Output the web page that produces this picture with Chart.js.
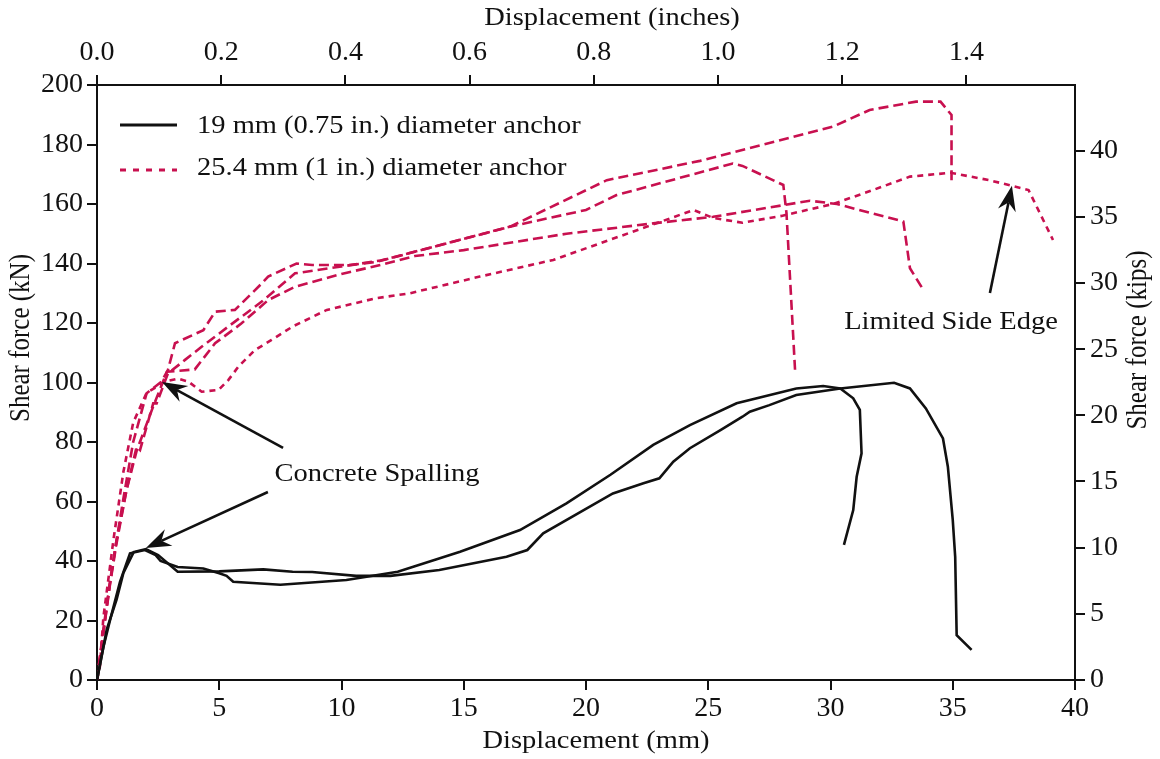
<!DOCTYPE html>
<html>
<head>
<meta charset="utf-8">
<title>Shear force vs displacement</title>
<script src="https://cdn.jsdelivr.net/npm/chart.js@4.4.1/dist/chart.umd.min.js"></script>
<style>
  html, body { margin: 0; padding: 0; background: #fff; }
  #wrap { width: 1160px; height: 759px; position: relative; }
</style>
</head>
<body>
<div id="wrap"><canvas id="chart"></canvas></div>
<script>
'use strict';

// ---- data (displacement mm, shear force kN) ----

// 19 mm (0.75 in.) anchors
const a19aMm = [0, 0.26, 0.53, 0.94, 1.35, 1.96, 2.4, 2.6, 3.3, 4.35, 5.0, 5.3, 5.57, 7.5, 10.2, 12.3, 14.85, 17.3, 19.2, 21.0, 22.75, 24.25, 26.16, 28.6, 29.7, 30.4, 30.93, 31.2, 31.27, 31.07, 30.93, 30.55];
const a19aKn = [0, 11, 20, 33, 42.6, 43.7, 42, 40, 38, 37.5, 35.9, 35, 33, 32, 33.6, 36.4, 43.1, 50.4, 59.4, 69, 79, 85.7, 93, 98, 98.8, 98, 94.7, 90.8, 76.2, 68.3, 57.1, 45.4];

const a19bMm = [0, 0.4, 0.8, 1.08, 1.5, 2.0, 2.5, 3.3, 5.0, 6.8, 8.0, 8.8, 10.6, 12.0, 14.0, 16.75, 17.6, 18.25, 21.1, 22.35, 23.0, 23.57, 24.25, 25.5, 26.4, 26.7, 27.5, 28.6, 30.4, 32.6, 33.25, 33.9, 34.6, 34.8, 35.0, 35.1, 35.16, 35.77];
const a19bKn = [0, 17, 27, 36, 43, 44, 42, 36.4, 36.5, 37.2, 36.4, 36.3, 35, 35, 37, 41.4, 43.7, 49.3, 62.7, 66.1, 67.8, 73.4, 77.9, 84, 88.5, 90.2, 92.4, 95.8, 98, 99.9, 98, 91.3, 81.2, 71.7, 53.8, 41.4, 15.1, 10.1];

// 25.4 mm (1 in.) anchors
const a25aMm = [0, 0.26, 0.53, 0.8, 1.08, 1.48, 2.03, 2.64, 2.9, 3.19, 4.35, 4.83, 5.64, 6.74, 7.0, 8.16, 8.8, 10.35, 11.4, 13.76, 16.9, 20.85, 24.66, 30.1, 31.6, 33.5, 34.5, 34.95, 34.95];
const a25aKn = [0, 17, 33, 47, 61, 80, 96.4, 100.3, 104.2, 113.2, 117.6, 123.8, 124.4, 133.3, 135.6, 140, 139.5, 139.5, 140.5, 145.6, 152.4, 168, 174.5, 186, 191.6, 194.4, 194.4, 189.9, 167.5];

const a25bMm = [0, 0.26, 0.53, 0.8, 1.21, 1.62, 1.76, 2.3, 2.44, 2.9, 3.6, 4.28, 5.37, 6.74, 8.1, 10.0, 11.6, 13.76, 16.9, 20.0, 21.25, 26.0, 26.4, 28.07, 28.2, 28.55];
const a25bKn = [0, 16, 32.5, 47, 64, 78.4, 77.3, 93, 93, 103, 107.6, 112, 118.8, 127.2, 136.7, 139, 141, 145.6, 152.4, 158, 163, 173.6, 172.8, 166.4, 156.9, 104.2];

const a25cMm = [0, 0.26, 0.53, 0.8, 1.21, 1.62, 2.3, 2.86, 4.0, 4.83, 5.9, 7.0, 8.1, 10.0, 11.6, 13.0, 15.0, 19.2, 22.75, 25.2, 29.16, 30.26, 32.98, 33.25, 33.8];
const a25cKn = [0, 15.7, 32, 46, 63.9, 77, 92, 103.6, 104.4, 113.2, 119.8, 127.7, 132.2, 136.5, 139.5, 142.5, 144.5, 150, 153.5, 155.7, 161.1, 160, 154.1, 138.4, 131.1];

const a25dMm = [0, 0.12, 0.26, 0.53, 0.67, 1.08, 1.48, 2.03, 2.78, 3.33, 3.74, 4.28, 4.97, 5.37, 5.78, 6.46, 7.14, 8.0, 9.4, 11.4, 12.8, 15.66, 18.66, 22.5, 24.4, 25.2, 26.4, 28.0, 30.1, 31.5, 33.25, 34.9, 36.5, 38.1, 39.1];
const a25dKn = [0, 4.5, 21, 38, 47, 70, 86.5, 96.5, 100.3, 101.3, 100.3, 96.9, 97.5, 100.8, 105.3, 110.9, 114.3, 118.8, 124.4, 128.3, 130, 135.6, 141.2, 152.4, 158, 155.3, 153.7, 156, 160, 164, 169.2, 170.5, 168, 164.7, 147.9];

// tick labels
const mmTicks   = [0, 5, 10, 15, 20, 25, 30, 35, 40];
const inchTicks = [0.0, 0.2, 0.4, 0.6, 0.8, 1.0, 1.2, 1.4];
const knTicks   = [0, 20, 40, 60, 80, 100, 120, 140, 160, 180, 200];
const kipTicks  = [0, 5, 10, 15, 20, 25, 30, 35, 40];

const legendLabels = ['19 mm (0.75 in.) diameter anchor', '25.4 mm (1 in.) diameter anchor'];

const MM_PER_IN = 25.4;
const KN_PER_KIP = 4.448222;

// ---- styling ----
const FONT_FAMILY = "'Liberation Serif', 'Times New Roman', serif";
const FONT = `25px ${FONT_FAMILY}`;
const STRETCH = 1.14;   // the figure's lettering is a little wide
const INK = '#111';
const RED = '#c8104f';

const pts = (xs, ys) => xs.map((x, i) => ({ x, y: ys[i] }));

const blackLine = (data) => ({
  data, showLine: true, borderColor: INK, borderWidth: 2.6,
  pointRadius: 0, tension: 0, fill: false,
});
const redLine = (data, dash) => ({
  data, showLine: true, borderColor: RED, borderWidth: 2.6, borderDash: dash,
  pointRadius: 0, tension: 0, fill: false,
});

// boxes around the plot (px) so the chart area lands where the figure has it
const BOX = { left: 97, right: 85, top: 85, bottom: 79 };

const axisStyle = {
  grid: { display: true, drawOnChartArea: false, drawTicks: true, tickLength: 10, color: INK, lineWidth: 2 },
  border: { display: true, color: INK, width: 2 },
};
const tickFont = { size: 28 };

const setTicks = (list) => (scale) => { scale.ticks = list.map(v => ({ value: v })); };

// text with the horizontal stretch; rot = -90deg for the side titles
function text(ctx, s, x, y, align, rot) {
  ctx.save();
  ctx.translate(x, y);
  if (rot) {
    ctx.rotate(-Math.PI / 2);
    ctx.scale(1, STRETCH);
  } else {
    ctx.scale(STRETCH, 1);
  }
  ctx.textAlign = align || 'center';
  ctx.fillText(s, 0, 0);
  ctx.restore();
}

// arrow with notched head
function arrow(ctx, x0, y0, x1, y1) {
  const ang = Math.atan2(y1 - y0, x1 - x0);
  const L = 25, W = 9, notch = 17;
  const bx = x1 - Math.cos(ang) * notch, by = y1 - Math.sin(ang) * notch;
  ctx.beginPath();
  ctx.moveTo(x0, y0);
  ctx.lineTo(bx, by);
  ctx.lineWidth = 2.6;
  ctx.strokeStyle = INK;
  ctx.stroke();
  const cx = x1 - Math.cos(ang) * L, cy = y1 - Math.sin(ang) * L;
  const nx = -Math.sin(ang), ny = Math.cos(ang);
  ctx.beginPath();
  ctx.moveTo(x1, y1);
  ctx.lineTo(cx + nx * W, cy + ny * W);
  ctx.lineTo(bx, by);
  ctx.lineTo(cx - nx * W, cy - ny * W);
  ctx.closePath();
  ctx.fillStyle = INK;
  ctx.fill();
}

const decor = {
  id: 'decor',
  afterDraw(chart) {
    const { ctx, chartArea: ca, scales: { x, y } } = chart;
    const px = v => x.getPixelForValue(v);
    const py = v => y.getPixelForValue(v);
    ctx.save();
    ctx.font = FONT;
    ctx.fillStyle = INK;
    ctx.textBaseline = 'middle';

    // axis titles
    text(ctx, 'Displacement (inches)', 612, 18);
    text(ctx, 'Displacement (mm)', 596, 741);
    text(ctx, 'Shear force (kN)', 22, 338, 'center', true);
    text(ctx, 'Shear force (kips)', 1139, 340, 'center', true);

    // legend
    const lx0 = ca.left + 23, lx1 = ca.left + 80, tx = ca.left + 100;
    ctx.lineWidth = 3;
    ctx.strokeStyle = INK;
    ctx.beginPath(); ctx.moveTo(lx0, 125); ctx.lineTo(lx1, 125); ctx.stroke();
    ctx.strokeStyle = RED;
    ctx.setLineDash([6, 7]);
    ctx.beginPath(); ctx.moveTo(lx0, 170); ctx.lineTo(lx1, 170); ctx.stroke();
    ctx.setLineDash([]);
    text(ctx, legendLabels[0], tx, 126, 'left');
    text(ctx, legendLabels[1], tx, 168, 'left');

    // annotations
    text(ctx, 'Concrete Spalling', px(11.45), py(69.2));
    arrow(ctx, px(7.61), py(78.0), px(2.66), py(100.2));
    arrow(ctx, px(6.99), py(63.2), px(2.0), py(44.4));
    text(ctx, 'Limited Side Edge', px(34.93), py(120.3));
    arrow(ctx, px(36.52), py(130.1), px(37.42), py(166.1));

    ctx.restore();
  }
};

Chart.defaults.font.family = FONT_FAMILY;
Chart.defaults.color = INK;

new Chart(document.getElementById('chart'), {
  type: 'scatter',
  data: {
    datasets: [
      blackLine(pts(a19aMm, a19aKn)),
      blackLine(pts(a19bMm, a19bKn)),
      redLine(pts(a25aMm, a25aKn), [10, 5]),
      redLine(pts(a25bMm, a25bKn), [10, 5]),
      redLine(pts(a25cMm, a25cKn), [10, 5]),
      redLine(pts(a25dMm, a25dKn), [6, 5]),
    ]
  },
  options: {
    responsive: true,
    maintainAspectRatio: false,
    animation: false,
    layout: { padding: 0 },
    plugins: { legend: { display: false }, tooltip: { enabled: false } },
    scales: {
      x: {
        type: 'linear', position: 'bottom', min: 0, max: 40,
        afterBuildTicks: setTicks(mmTicks),
        afterFit: s => { s.height = BOX.bottom; },
        ticks: { font: tickFont, color: INK, padding: 2, maxRotation: 0 },
        ...axisStyle,
      },
      x2: {
        type: 'linear', position: 'top', min: 0, max: 40 / MM_PER_IN,
        afterBuildTicks: setTicks(inchTicks),
        afterFit: s => { s.height = BOX.top; },
        ticks: { font: tickFont, color: INK, padding: 6, maxRotation: 0, callback: v => v.toFixed(1) },
        ...axisStyle,
      },
      y: {
        type: 'linear', position: 'left', min: 0, max: 200,
        afterBuildTicks: setTicks(knTicks),
        afterFit: s => { s.width = BOX.left; },
        ticks: { font: tickFont, color: INK, padding: 4 },
        ...axisStyle,
      },
      y2: {
        type: 'linear', position: 'right', min: 0, max: 200 / KN_PER_KIP,
        afterBuildTicks: setTicks(kipTicks),
        afterFit: s => { s.width = BOX.right; },
        ticks: { font: tickFont, color: INK, padding: 5 },
        ...axisStyle,
      },
    }
  },
  plugins: [decor]
});
</script>
</body>
</html>
